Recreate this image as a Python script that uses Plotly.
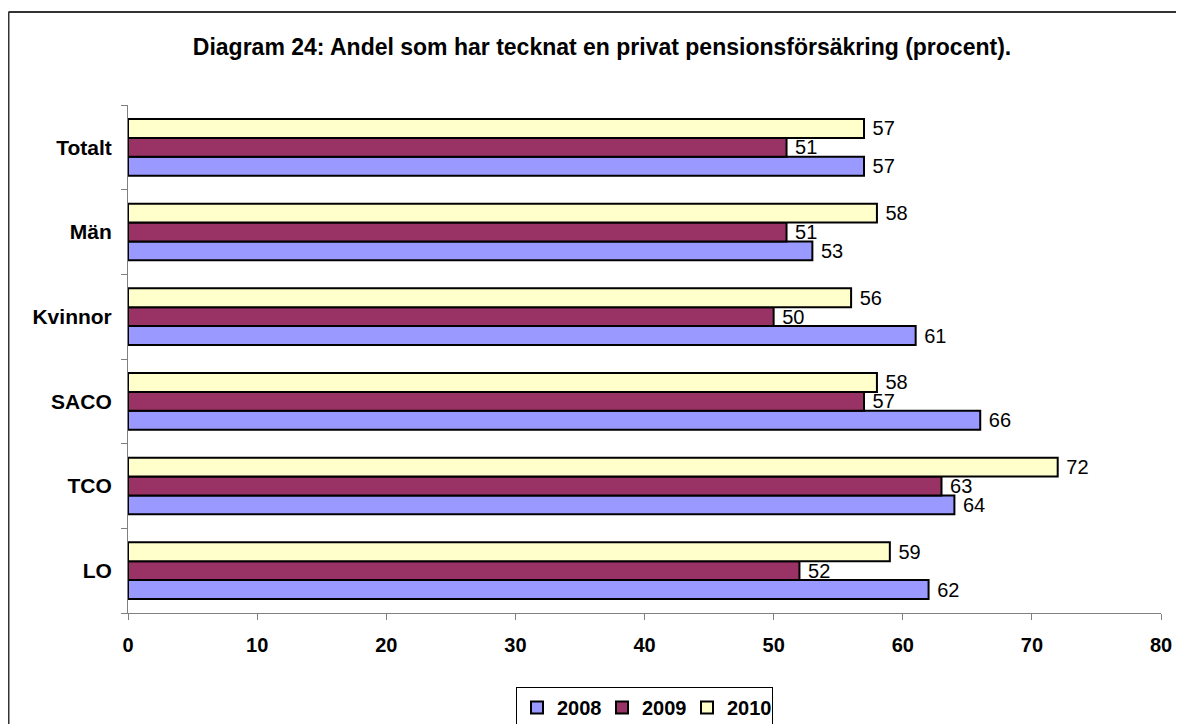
import plotly.graph_objects as go

# categories listed bottom -> top (plotly draws first category at the bottom)
categories = ['LO', 'TCO', 'SACO', 'Kvinnor', 'Män', 'Totalt']
years = ['2008', '2009', '2010']
values_2008 = [62, 64, 66, 61, 53, 57]
values_2009 = [52, 63, 57, 50, 51, 51]
values_2010 = [59, 72, 58, 56, 58, 57]

colors = ['#9999FF', '#993366', '#FFFFCC']
series = [values_2008, values_2009, values_2010]

fig = go.Figure()
for year, vals, col in zip(years, series, colors):
    fig.add_trace(go.Bar(
        y=categories, x=vals, name=year, orientation='h',
        marker=dict(color=col, line=dict(color='black', width=2)),
        text=[' ' + str(v) for v in vals], textposition='outside',
        textfont=dict(size=20, color='black'),
        constraintext='none', cliponaxis=False,
    ))

font = 'Arial, Liberation Sans, sans-serif'
# page body has an 8px margin, so the figure is 8px smaller than the window
W, H = 1176, 716
L, T, R, B = 120, 97, 23, 111
pw, ph = W - L - R, H - T - B

fig.update_layout(
    width=W, height=H,
    paper_bgcolor='white', plot_bgcolor='white',
    font=dict(family=font, size=20, color='black'),
    barmode='group', bargap=0.33, bargroupgap=0,
    margin=dict(l=L, r=R, t=T, b=B, autoexpand=False),
    title=dict(text='<b>Diagram 24: Andel som har tecknat en privat pensionsförsäkring (procent).</b>',
               x=594 / W, xref='container', xanchor='center', y=1 - 39 / H, yanchor='middle',
               font=dict(size=23, family=font)),
    legend=dict(orientation='h', x=0.5, xanchor='center', y=-74 / ph, yanchor='top',
                bordercolor='black', borderwidth=1, bgcolor='white',
                font=dict(size=20, family=font, weight='bold'),
                traceorder='normal', itemwidth=30, entrywidth=40),
    showlegend=True,
)
fig.update_xaxes(range=[0, 80], dtick=10, showgrid=False, zeroline=False,
                 showline=True, linecolor='#808080', linewidth=1,
                 ticks='outside', ticklen=6, tickcolor='#808080',
                 ticklabelstandoff=8, automargin=False,
                 tickfont=dict(size=20, family=font, weight='bold'))
fig.update_yaxes(showgrid=False, showline=True, linecolor='#808080', linewidth=1,
                 ticks='outside', ticklen=6, tickcolor='#808080', tickson='boundaries',
                 ticklabelstandoff=11, automargin=False,
                 tickfont=dict(size=21, family=font, weight='bold'))

# outer frame (top and left only, as in the source)
fx = -(L - 0.5) / pw
fy = 1 + (T - 4) / ph
fig.add_shape(type='line', xref='paper', yref='paper', x0=fx, x1=1.2,
              y0=fy, y1=fy, line=dict(color='#333333', width=2))
fig.add_shape(type='line', xref='paper', yref='paper', x0=fx, x1=fx,
              y0=fy, y1=-0.4, line=dict(color='#333333', width=2))

fig.write_html("out.html")
